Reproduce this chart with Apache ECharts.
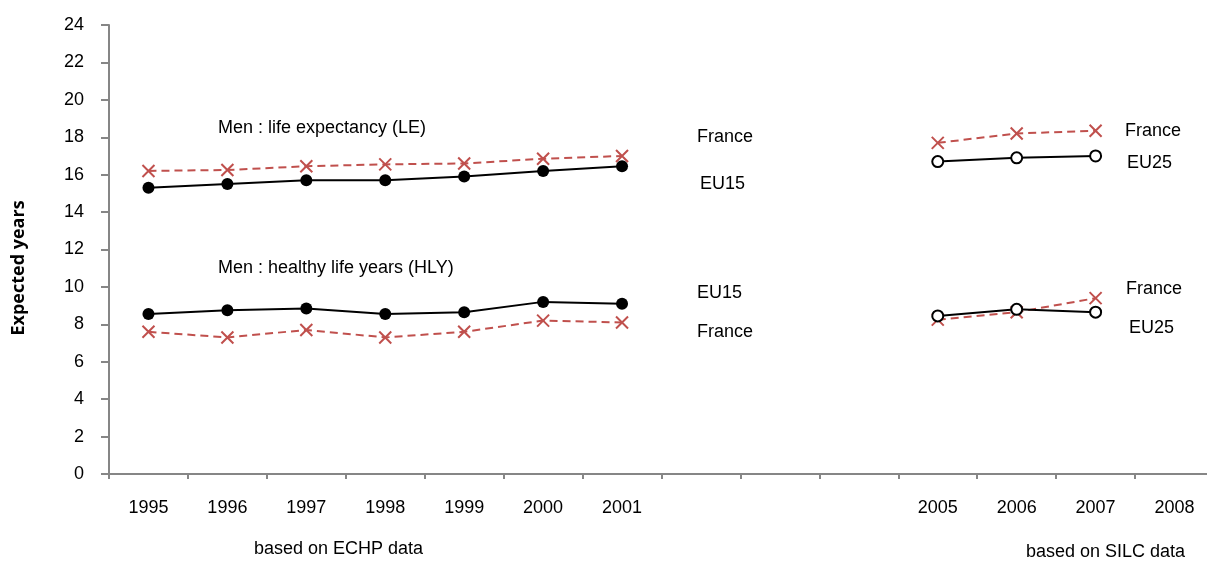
<!DOCTYPE html>
<html>
<head>
<meta charset="utf-8">
<script src="https://cdn.jsdelivr.net/npm/echarts@6/dist/echarts.min.js"></script>
<style>
  html, body { margin: 0; padding: 0; background: #fff; }
  #chart { width: 1207px; height: 563px; }
</style>
</head>
<body>
<div id="chart"></div>
<script>
// categories: 2002-2004 are empty slots on the axis
var years = ['1995', '1996', '1997', '1998', '1999', '2000', '2001', '', '', '', '2005', '2006', '2007', '2008'];

// ECHP period (1995-2001)
var leFranceEchp = [16.2, 16.25, 16.45, 16.55, 16.6, 16.85, 17.0];
var leEu15 = [15.3, 15.5, 15.7, 15.7, 15.9, 16.2, 16.45];
var hlyEu15 = [8.55, 8.75, 8.85, 8.55, 8.65, 9.2, 9.1];
var hlyFranceEchp = [7.6, 7.3, 7.7, 7.3, 7.6, 8.2, 8.1];

// SILC period (2005-2007)
var leFranceSilc = [17.7, 18.2, 18.35];
var leEu25 = [16.7, 16.9, 17.0];
var hlyFranceSilc = [8.25, 8.65, 9.4];
var hlyEu25 = [8.45, 8.8, 8.65];

var RED = '#c0504d';
var FONT = "'Liberation Sans', Arial, sans-serif";
var crossPath = 'path://M0,0L10,10M10,0L0,10';

var chart = echarts.init(document.getElementById('chart'));

// place values on the 14-slot axis
function echp(arr) {
	var out = [];
	for (var i = 0; i < years.length; i++) out.push(i < 7 ? arr[i] : null);
	return out;
}
function silc(arr) {
	var out = [];
	for (var i = 0; i < years.length; i++) out.push(i >= 10 && i < 13 ? arr[i - 10] : null);
	return out;
}

function redDashed(name, data) {
	return {
		name: name,
		type: 'line',
		data: data,
		symbol: crossPath,
		symbolSize: 12,
		showAllSymbol: true,
		lineStyle: { color: RED, width: 2, type: [8, 5] },
		itemStyle: { color: 'rgba(0,0,0,0)', borderColor: RED, borderWidth: 2 },
		z: 2
	};
}
function blackSolid(name, data, filled) {
	return {
		name: name,
		type: 'line',
		data: data,
		symbol: filled ? 'circle' : 'emptyCircle',
		symbolSize: filled ? 12 : 11,
		showAllSymbol: true,
		lineStyle: { color: '#000', width: 2 },
		itemStyle: filled ? { color: '#000' } : { color: '#000', borderColor: '#000', borderWidth: 2 },
		z: 3
	};
}

function txt(x, y, s) {
	return { type: 'text', x: x, y: y, style: { text: s, fill: '#000', font: '18px ' + FONT } };
}

var option = {
	animation: false,
	backgroundColor: '#fff',
	grid: { left: 109, top: 25, width: 1105, height: 449, containLabel: false, outerBoundsMode: 'none' },
	xAxis: {
		type: 'category',
		data: years,
		boundaryGap: true,
		axisLine: { lineStyle: { color: '#868686', width: 2 } },
		axisTick: { show: true, length: 5, lineStyle: { color: '#868686', width: 2 } },
		axisLabel: { interval: 0, color: '#000', fontSize: 18, fontFamily: FONT, margin: 25 },
		splitLine: { show: false }
	},
	yAxis: {
		type: 'value',
		min: 0,
		max: 24,
		interval: 2,
		axisLine: { show: true, lineStyle: { color: '#868686', width: 2 } },
		axisTick: { show: true, length: 8, lineStyle: { color: '#868686', width: 2 } },
		axisLabel: { color: '#000', fontSize: 18, fontFamily: FONT, margin: 25 },
		splitLine: { show: false }
	},
	series: [
		redDashed('France LE (ECHP)', echp(leFranceEchp)),
		blackSolid('EU15 LE', echp(leEu15), true),
		redDashed('France HLY (ECHP)', echp(hlyFranceEchp)),
		blackSolid('EU15 HLY', echp(hlyEu15), true),
		redDashed('France LE (SILC)', silc(leFranceSilc)),
		blackSolid('EU25 LE', silc(leEu25), false),
		redDashed('France HLY (SILC)', silc(hlyFranceSilc)),
		blackSolid('EU25 HLY', silc(hlyEu25), false)
	],
	graphic: [
		{
			type: 'text', x: 19, y: 268, rotation: Math.PI / 2,
			style: {
				text: 'Expected years', fill: '#000', align: 'center', verticalAlign: 'middle',
				font: "bold 18px 'Open Sans', 'Noto Sans', sans-serif"
			}
		},
		txt(218, 119, 'Men : life expectancy (LE)'),
		txt(218, 259, 'Men : healthy life years (HLY)'),
		txt(697, 128, 'France'),
		txt(700, 175, 'EU15'),
		txt(697, 284, 'EU15'),
		txt(697, 323, 'France'),
		txt(1125, 122, 'France'),
		txt(1127, 154, 'EU25'),
		txt(1126, 280, 'France'),
		txt(1129, 319, 'EU25'),
		txt(254, 540, 'based on ECHP data'),
		txt(1026, 543, 'based on SILC data')
	]
};

chart.setOption(option);
</script>
</body>
</html>
